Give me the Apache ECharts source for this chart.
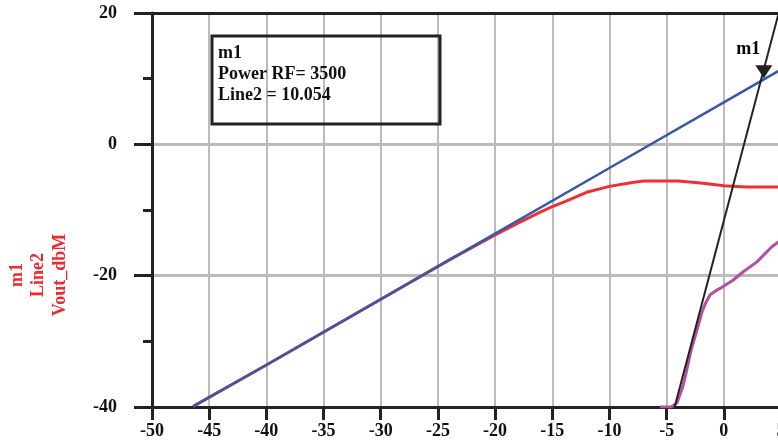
<!DOCTYPE html>
<html>
<head>
<meta charset="utf-8">
<script src="https://cdn.jsdelivr.net/npm/echarts@6/dist/echarts.min.js"></script>
<style>html,body{margin:0;padding:0;background:#fff;}#c{width:778px;height:444px;}</style>
</head>
<body>
<div id="c"></div>
<script>
// Axis ranges / ticks
var xMin = -50, xMax = 5, xStep = 5;
var yMin = -40, yMax = 20, yStep = 20;

// Series data [Power RF, value]
var linearLine = [[-46.4,-39.9],[-40,-33.6],[-30,-23.6],[-20,-13.6],[-10,-3.6],[0,6.4],[5,11.4]];
var line2 = [[-46.4,-39.9],[-40,-33.6],[-30,-23.6],[-24,-17.6],[-22,-15.7],[-20,-13.8],[-18,-12.0],[-16,-10.3],[-15,-9.5],[-14,-8.8],[-12,-7.3],[-10,-6.4],[-8,-5.8],[-7,-5.6],[-4,-5.6],[-2,-5.9],[0,-6.3],[2,-6.5],[5,-6.5]];
var vout3 = [[-5.6,-40],[-4.6,-40],[-4.1,-39.4],[-3.6,-37.0],[-3.3,-34.8],[-2.9,-31.6],[-2.4,-28.6],[-1.9,-25.5],[-1.6,-24.2],[-1.2,-22.9],[-0.6,-22.2],[-0.1,-21.7],[0.8,-20.7],[1.7,-19.4],[2.9,-17.9],[4.2,-15.6],[5,-14.6]];
var steepLine = [[-4.3,-40],[4.8,20]];
var markerPoint = [[3.5,10.054]];
var markerName = 'm1';
var markerText = ['m1','Power RF= 3500','Line2 = 10.054'];
var yName = ['m1','Line2','Vout_dbM'];

var FONT = '"Liberation Serif","DejaVu Serif",serif';
var chart = echarts.init(document.getElementById('c'), null, {renderer:'canvas'});
var axisCol = '#222';
var gridCol = '#bbbbbb';

chart.setOption({
  animation:false,
  backgroundColor:'#fff',
  grid:{left:152, top:13, width:629, height:394, containLabel:false, outerBoundsMode:'none'},
  xAxis:[{
    type:'value', min:xMin, max:xMax, interval:xStep,
    axisLine:{show:true, onZero:false, lineStyle:{color:axisCol, width:3}},
    axisTick:{show:true, length:13, lineStyle:{color:axisCol, width:3}},
    axisLabel:{show:true, margin:15, color:'#111', fontFamily:FONT, fontWeight:'bold', fontSize:18, showMinLabel:true, showMaxLabel:true, hideOverlap:false},
    splitLine:{show:true, lineStyle:{color:gridCol, width:2}}
  },{
    type:'value', position:'top', min:xMin, max:xMax, interval:xStep,
    axisLine:{show:true, onZero:false, lineStyle:{color:axisCol, width:3}},
    axisTick:{show:false}, axisLabel:{show:false}, splitLine:{show:false}
  }],
  yAxis:{
    type:'value', min:yMin, max:yMax, interval:yStep,
    axisLine:{show:true, onZero:false, lineStyle:{color:axisCol, width:3}},
    axisTick:{show:true, length:18, lineStyle:{color:axisCol, width:3}},
    minorTick:{show:true, splitNumber:2, length:9, lineStyle:{color:axisCol, width:3}},
    axisLabel:{show:true, margin:35, color:'#111', fontFamily:FONT, fontWeight:'bold', fontSize:18},
    splitLine:{show:true, lineStyle:{color:gridCol, width:3}},
    minorSplitLine:{show:false}
  },
  graphic:[
    {type:'text', x:38.5, y:275, rotation:Math.PI/2,
     style:{text:yName.join('\n'), fill:'#ee2a30', font:'bold 18px '+FONT, align:'center', verticalAlign:'middle', lineHeight:21.5}},
    {type:'rect', shape:{x:212, y:36, width:228, height:88}, style:{fill:'none', stroke:axisCol, lineWidth:3}, z:100},
    {type:'text', x:218, y:42.5, style:{text:markerText.join('\n'), fill:'#111', font:'bold 18px '+FONT, lineHeight:21, verticalAlign:'top'}, z:100}
  ],
  series:[
    {type:'line', name:'Line2', data:line2, showSymbol:false, lineStyle:{color:'#ee3036', width:3}, z:2},
    {type:'line', name:'Vout_dbM', data:linearLine, showSymbol:false, lineStyle:{color:'#3a57a8', width:2.5}, z:3},
    {type:'line', name:'Vout3', data:vout3, showSymbol:false, lineStyle:{color:'#b44fa2', width:3}, z:4},
    {type:'line', name:'Steep', data:steepLine, showSymbol:false, lineStyle:{color:'#222', width:2}, z:5},
    {type:'scatter', name:markerName, data:markerPoint, symbol:'triangle', symbolRotate:180, symbolSize:[17,13], symbolOffset:[0,-6.5],
     itemStyle:{color:'#222', opacity:1}, z:6,
     label:{show:true, formatter:markerName, position:[5,-16], align:'right', verticalAlign:'middle', color:'#000', opacity:1, textBorderWidth:0, fontFamily:FONT, fontWeight:'bold', fontSize:18}}
  ]
});
</script>
</body>
</html>
